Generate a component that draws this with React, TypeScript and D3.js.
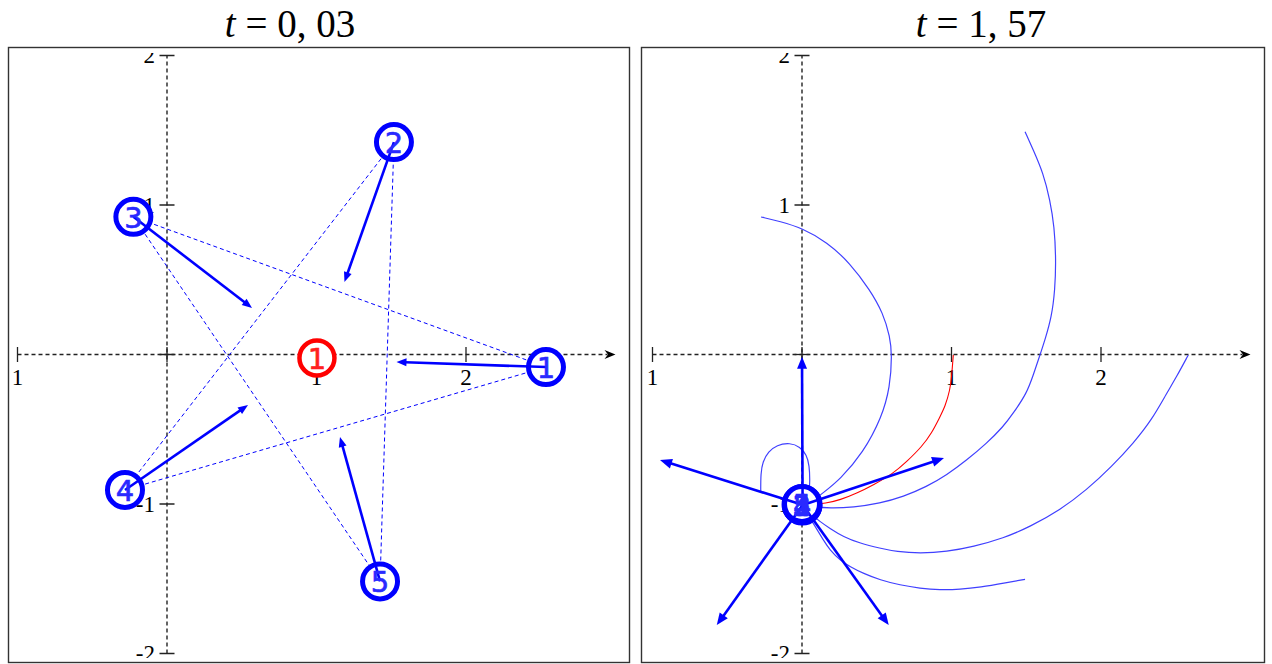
import React from "react";
import * as d3 from "d3";

const W = 1272;
const H = 664;

// Axis ticks shared by both panels
const xTickValues = [-1, 0, 1, 2];
const xTickLabels = ["1", "", "1", "2"];
const yTickValues = [-2, -1, 0, 1, 2];
const yTickLabels = ["-2", "-1", "", "1", "2"];
const xAxisEnd = 3;

// Bodies are numbered 1..5; the dashed star joins body i with body i+2
const bodyLabels = ["1", "2", "3", "4", "5"];
const starEdges = [
  [0, 2],
  [1, 3],
  [2, 4],
  [3, 0],
  [4, 1],
];

// ---- t = 0,03 ----
const leftTime = "0, 03";
const leftBodies = [
  [2.535, -0.084],
  [1.518, 1.421],
  [-0.225, 0.921],
  [-0.281, -0.906],
  [1.425, -1.518],
];
const leftCentre = [1.003, -0.023];
const leftVelocityTips = [
  [1.535, -0.05],
  [1.187, 0.485],
  [0.569, 0.311],
  [0.542, -0.338],
  [1.157, -0.552],
];

// ---- t = 1,57 ----
const rightTime = "1, 57";
const rightBodies = [
  [0.004, -1.003],
  [0.0, -1.008],
  [-0.003, -1.004],
  [0.002, -1.01],
  [0.0, -1.0],
];
const rightCentre = [0.0, -1.005];
const rightVelocityTips = [
  [0.0, -0.015],
  [0.95, -0.692],
  [-0.95, -0.706],
  [-0.57, -1.81],
  [0.58, -1.81],
];

// Paths travelled from t = 0 to t = 1,57
const trailBody1 = [
  [2.584, -0.003], [2.506, -0.148], [2.439, -0.26], [2.339, -0.438],
  [2.216, -0.594], [2.071, -0.75], [1.904, -0.906], [1.726, -1.04],
  [1.525, -1.152], [1.347, -1.229], [1.146, -1.285], [0.968, -1.319],
  [0.789, -1.33], [0.633, -1.319], [0.522, -1.296], [0.388, -1.263],
  [0.276, -1.219], [0.187, -1.163], [0.12, -1.118], [0.054, -1.062],
  [0.0, -1.005],
];
const trailBody2 = [
  [1.492, 1.49], [1.547, 1.368], [1.614, 1.212], [1.659, 1.033],
  [1.688, 0.855], [1.699, 0.632], [1.692, 0.431], [1.67, 0.253],
  [1.625, 0.097], [1.592, -0.003], [1.547, -0.137], [1.503, -0.26],
  [1.413, -0.393], [1.346, -0.483], [1.235, -0.594], [1.102, -0.706],
  [0.968, -0.806], [0.834, -0.884], [0.678, -0.951], [0.522, -0.995],
  [0.343, -1.022], [0.187, -1.029], [0.076, -1.018], [0.0, -1.005],
];
const trailBody3 = [
  [-0.274, 0.92], [-0.147, 0.89], [0.0, 0.846], [0.167, 0.752],
  [0.321, 0.612], [0.455, 0.431], [0.542, 0.278], [0.589, 0.117],
  [0.602, -0.003], [0.589, -0.217], [0.535, -0.418], [0.408, -0.659],
  [0.254, -0.836], [0.14, -0.926], [0.054, -0.993], [0.0, -1.005],
];
const trailBody4 = [
  [-0.276, -0.918], [-0.276, -0.795], [-0.263, -0.717], [-0.225, -0.65],
  [-0.169, -0.605], [-0.08, -0.59], [-0.013, -0.617], [0.031, -0.672],
  [0.049, -0.739], [0.054, -0.862], [0.042, -0.973], [0.0, -1.005],
];
const trailBody5 = [
  [1.492, -1.504], [1.369, -1.526], [1.191, -1.557], [1.057, -1.571],
  [0.923, -1.575], [0.789, -1.564], [0.656, -1.542], [0.522, -1.508],
  [0.41, -1.464], [0.321, -1.419], [0.254, -1.375], [0.187, -1.308],
  [0.142, -1.241], [0.076, -1.129], [0.031, -1.062], [0.0, -1.005],
];
const trailCentre = [
  [1.012, -0.003], [1.001, -0.148], [0.99, -0.237], [0.957, -0.349],
  [0.923, -0.416], [0.867, -0.527], [0.801, -0.617], [0.7, -0.717],
  [0.611, -0.795], [0.477, -0.873], [0.366, -0.928], [0.254, -0.973],
  [0.165, -0.995], [0.031, -1.007], [0.0, -1.005],
];

// Layout of the two panels
const UNIT = 149.5;
const panels = [
  {
    id: "a",
    frame: { x: 8.5, y: 47.5, w: 621, h: 615 },
    origin: { x: 167, y: 354.5 },
    titleX: 290,
    time: leftTime,
    bodies: leftBodies,
    centre: leftCentre,
    tips: leftVelocityTips,
    trails: [] as number[][][],
    centreTrail: null as number[][] | null,
  },
  {
    id: "b",
    frame: { x: 641.5, y: 47.5, w: 623, h: 615 },
    origin: { x: 802, y: 354.5 },
    titleX: 981,
    time: rightTime,
    bodies: rightBodies,
    centre: rightCentre,
    tips: rightVelocityTips,
    trails: [trailBody1, trailBody2, trailBody3, trailBody4, trailBody5],
    centreTrail: trailCentre,
  },
];

const BLUE = "#0000ff";
const TRAIL_BLUE = "#4040ff";
const RED = "#ff0000";
const AXIS = "#222";
const SERIF = "'Liberation Serif', 'DejaVu Serif', serif";
const SANS = "'DejaVu Sans', 'Liberation Sans', sans-serif";
const R = 17.5;

function headPath(x1: number, y1: number, x2: number, y2: number, len: number, half: number) {
  const a = Math.atan2(y2 - y1, x2 - x1);
  const bx = x2 - len * Math.cos(a);
  const by = y2 - len * Math.sin(a);
  const nx = -Math.sin(a) * half;
  const ny = Math.cos(a) * half;
  return `M${x2},${y2}L${bx + nx},${by + ny}L${bx - nx},${by - ny}Z`;
}

function Panel({ p }: { p: (typeof panels)[number] }) {
  const x = d3.scaleLinear().domain([0, 1]).range([p.origin.x, p.origin.x + UNIT]);
  const y = d3.scaleLinear().domain([0, 1]).range([p.origin.y, p.origin.y - UNIT]);
  const line = d3
    .line<number[]>()
    .x((d) => x(d[0]))
    .y((d) => y(d[1]))
    .curve(d3.curveBasis);

  const { frame } = p;
  const clipId = `clip-${p.id}`;
  const labelClipId = `lclip-${p.id}`;
  const ax0 = x(-1);
  const ax1 = x(xAxisEnd);
  const ay = y(0);
  const vx = x(0);

  const headLen = p.id === "a" ? 10 : 12;
  const headHalf = p.id === "a" ? 4 : 5;

  return (
    <g>
      <defs>
        <clipPath id={clipId}>
          <rect x={frame.x} y={frame.y} width={frame.w} height={frame.h} />
        </clipPath>
        <clipPath id={labelClipId}>
          <rect x={frame.x + 1} y={53} width={frame.w - 2} height={605} />
        </clipPath>
      </defs>

      {/* title */}
      <text
        x={p.titleX}
        y={37}
        textAnchor="middle"
        fontFamily={SERIF}
        fontSize={39}
        fill="#000"
      >
        <tspan fontStyle="italic">t</tspan>
        <tspan> = {p.time}</tspan>
      </text>

      <rect x={frame.x} y={frame.y} width={frame.w} height={frame.h} fill="#fff" />

      <g clipPath={`url(#${clipId})`}>
        {/* axes */}
        <line x1={ax0} x2={ax1 - 8} y1={ay} y2={ay} stroke={AXIS} strokeWidth={1.4} strokeDasharray="4 3" />
        <line x1={vx} x2={vx} y1={y(-2)} y2={y(2)} stroke={AXIS} strokeWidth={1.4} strokeDasharray="4 3" />
        <path
          d={`M${ax1},${ay}L${ax1 - 11},${ay - 4.5}L${ax1 - 7.5},${ay}L${ax1 - 11},${ay + 4.5}Z`}
          fill="#000"
        />
        {xTickValues.map((v) => (
          <line key={`xt${v}`} x1={x(v)} x2={x(v)} y1={ay - 7.5} y2={ay + 7.5} stroke={AXIS} strokeWidth={1.3} />
        ))}
        {yTickValues.map((v) => (
          <line key={`yt${v}`} x1={vx - 7.5} x2={vx + 7.5} y1={y(v)} y2={y(v)} stroke={AXIS} strokeWidth={1.3} />
        ))}
        <g clipPath={`url(#${labelClipId})`}>
          {xTickValues.map((v, i) => (
            <text
              key={`xl${v}`}
              x={x(v)}
              y={ay + 23}
              textAnchor="middle"
              dominantBaseline="central"
              fontFamily={SERIF}
              fontSize={23}
              fill="#000"
            >
              {xTickLabels[i]}
            </text>
          ))}
          {yTickValues.map((v, i) => (
            <text
              key={`yl${v}`}
              x={vx - 12}
              y={y(v)}
              textAnchor="end"
              dominantBaseline="central"
              fontFamily={SERIF}
              fontSize={23}
              fill="#000"
            >
              {yTickLabels[i]}
            </text>
          ))}
        </g>

        {/* trajectories */}
        {p.trails.map((t, i) => (
          <path key={`tr${i}`} d={line(t) || ""} fill="none" stroke={TRAIL_BLUE} strokeWidth={1.2} />
        ))}
        {p.centreTrail && (
          <path d={line(p.centreTrail) || ""} fill="none" stroke={RED} strokeWidth={1.1} />
        )}

        {/* dashed star between the bodies */}
        {starEdges.map(([a, b], i) => (
          <line
            key={`st${i}`}
            x1={x(p.bodies[a][0])}
            y1={y(p.bodies[a][1])}
            x2={x(p.bodies[b][0])}
            y2={y(p.bodies[b][1])}
            stroke={BLUE}
            strokeWidth={1}
            strokeDasharray="4 3"
          />
        ))}

        {/* centre of mass */}
        <circle cx={x(p.centre[0])} cy={y(p.centre[1])} r={R} fill="#fff" stroke={RED} strokeWidth={4.5} />
        <text
          x={x(p.centre[0])}
          y={y(p.centre[1]) + 1}
          textAnchor="middle"
          dominantBaseline="central"
          fontFamily={SANS}
          fontSize={29}
          fill="#ff2020"
          stroke="#ff2020"
          strokeWidth={0.6}
        >
          1
        </text>

        {/* bodies */}
        {p.bodies.map((b, i) => (
          <circle key={`bc${i}`} cx={x(b[0])} cy={y(b[1])} r={R} fill="#fff" stroke={BLUE} strokeWidth={5} />
        ))}

        {/* velocity arrows */}
        {p.bodies.map((b, i) => {
          const x1 = x(b[0]);
          const y1 = y(b[1]);
          const x2 = x(p.tips[i][0]);
          const y2 = y(p.tips[i][1]);
          const a = Math.atan2(y2 - y1, x2 - x1);
          const ex = x2 - (headLen - 1) * Math.cos(a);
          const ey = y2 - (headLen - 1) * Math.sin(a);
          return (
            <g key={`ar${i}`}>
              <line x1={x1} y1={y1} x2={ex} y2={ey} stroke={BLUE} strokeWidth={2.6} />
              <path d={headPath(x1, y1, x2, y2, headLen, headHalf)} fill={BLUE} />
            </g>
          );
        })}

        {/* body numbers */}
        {p.bodies.map((b, i) => (
          <text
            key={`bl${i}`}
            x={x(b[0])}
            y={y(b[1]) + 1}
            textAnchor="middle"
            dominantBaseline="central"
            fontFamily={SANS}
            fontSize={29}
            fill="#2a2aff"
            stroke="#2a2aff"
            strokeWidth={0.6}
          >
            {bodyLabels[i]}
          </text>
        ))}
      </g>

      <rect
        x={frame.x}
        y={frame.y}
        width={frame.w}
        height={frame.h}
        fill="none"
        stroke="#333"
        strokeWidth={1.4}
      />
    </g>
  );
}

export default function App() {
  return (
    <svg
      width={W}
      height={H}
      viewBox={`0 0 ${W} ${H}`}
      style={{ position: "absolute", left: 0, top: 0, background: "#fff" }}
    >
      <rect width={W} height={H} fill="#fff" />
      {panels.map((p) => (
        <Panel key={p.id} p={p} />
      ))}
    </svg>
  );
}
